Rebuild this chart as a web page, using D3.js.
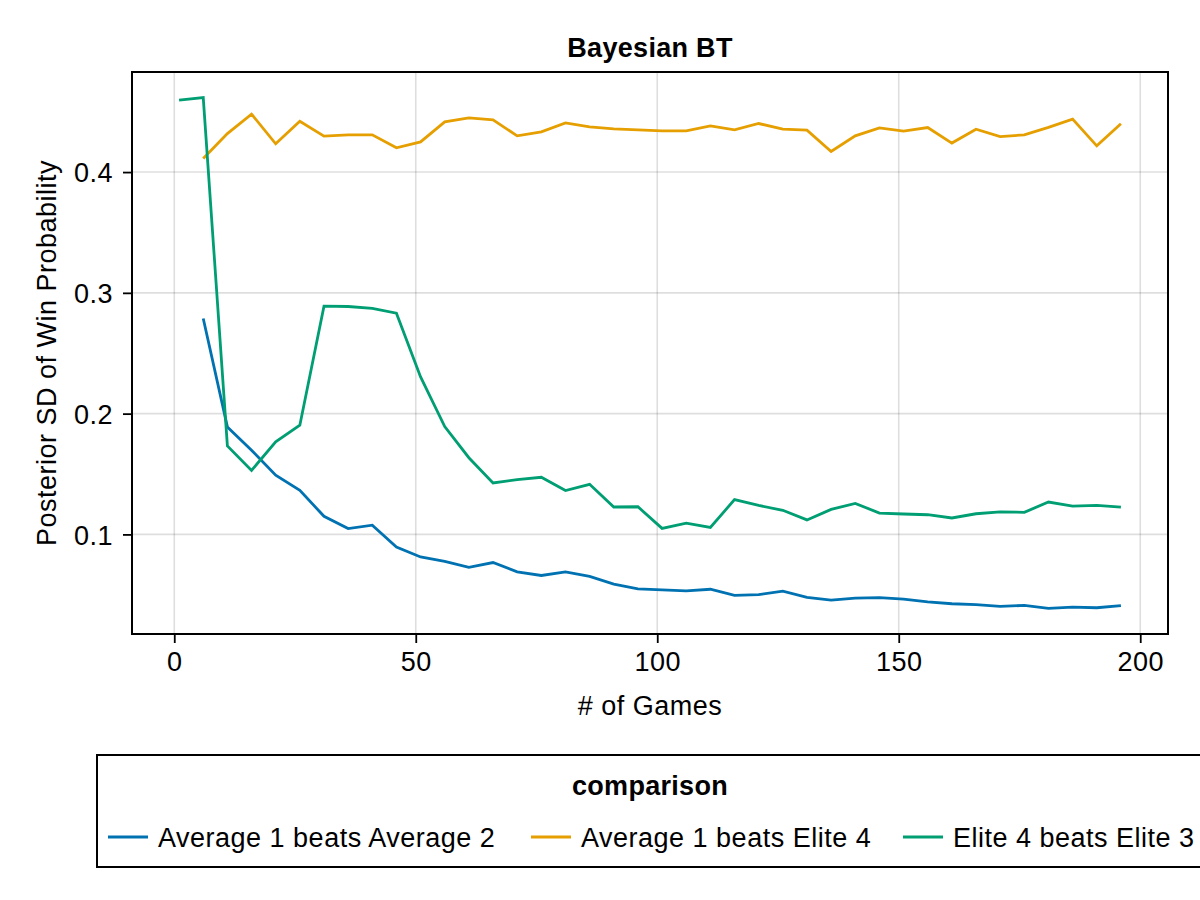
<!DOCTYPE html>
<html>
<head>
<meta charset="utf-8">
<script src="https://cdn.jsdelivr.net/npm/d3@7"></script>
<style>
  body { margin: 0; background: #fff; }
  text { font-family: "Liberation Sans", Arial, sans-serif; fill: #000; }
</style>
</head>
<body>
<div id="container"></div>
<script>
let w = 1200;
let h = 900;
let fontSize = 27;

// plot box
let boxLeft = 132;
let boxRight = 1168;
let boxTop = 72;
let boxBottom = 634;

// data
let gamesAll = [1, 6, 11, 16, 21, 26, 31, 36, 41, 46, 51, 56, 61, 66, 71, 76, 81, 86, 91, 96,
  101, 106, 111, 116, 121, 126, 131, 136, 141, 146, 151, 156, 161, 166, 171, 176, 181, 186, 191, 196];
let gamesFrom6 = gamesAll.slice(1);

let avg1Avg2 = [0.2788, 0.189, 0.1697, 0.149, 0.1365, 0.115, 0.1048, 0.1076, 0.0896, 0.0813,
  0.0777, 0.0728, 0.0767, 0.069, 0.066, 0.069, 0.0652, 0.0588, 0.0549, 0.054,
  0.0532, 0.0546, 0.0496, 0.0501, 0.0531, 0.0478, 0.0456, 0.0473, 0.0476, 0.0465,
  0.0442, 0.0426, 0.0418, 0.0404, 0.0412, 0.0387, 0.0398, 0.0393, 0.041];

let avg1Elite4 = [0.4112, 0.4319, 0.448, 0.4234, 0.4421, 0.4298, 0.4308, 0.4308, 0.4201, 0.425,
  0.4416, 0.4449, 0.4433, 0.430, 0.4333, 0.4407, 0.4374, 0.4358, 0.435, 0.4341,
  0.4341, 0.4382, 0.435, 0.4402, 0.4355, 0.4347, 0.417, 0.430, 0.4366, 0.4339,
  0.4369, 0.424, 0.4355, 0.4294, 0.4308, 0.437, 0.4438, 0.4217, 0.440];

let elite4Elite3 = [0.4595, 0.4617, 0.1733, 0.153, 0.1766, 0.1904, 0.289, 0.2887, 0.2871, 0.2832,
  0.2304, 0.1893, 0.1635, 0.1426, 0.1454, 0.1473, 0.1363, 0.1415, 0.1227, 0.1229,
  0.105, 0.1094, 0.1058, 0.1288, 0.124, 0.12, 0.112, 0.1207, 0.1257, 0.1177,
  0.1169, 0.1163, 0.1136, 0.1171, 0.1186, 0.1183, 0.1268, 0.1235, 0.124, 0.1226];

let seriesNames = ["Average 1 beats Average 2", "Average 1 beats Elite 4", "Elite 4 beats Elite 3"];
let seriesColors = ["#0072B2", "#E69F00", "#009E73"];
let xTicks = [0, 50, 100, 150, 200];
let yTicks = [0.1, 0.2, 0.3, 0.4];

let series = [
  { name: seriesNames[0], color: seriesColors[0], x: gamesFrom6, y: avg1Avg2 },
  { name: seriesNames[1], color: seriesColors[1], x: gamesFrom6, y: avg1Elite4 },
  { name: seriesNames[2], color: seriesColors[2], x: gamesAll, y: elite4Elite3 }
];

let viz = d3.select("#container")
  .append("svg")
    .attr("width", w)
    .attr("height", h)
;

// limits with 5% margin like the original
let xExt = d3.extent(gamesAll);
let allY = d3.merge([avg1Avg2, avg1Elite4, elite4Elite3]);
let yExt = d3.extent(allY);
let xPad = (xExt[1] - xExt[0]) * 0.05;
let yPad = (yExt[1] - yExt[0]) * 0.05;

let xScale = d3.scaleLinear().domain([xExt[0] - xPad, xExt[1] + xPad]).range([boxLeft, boxRight]);
let yScale = d3.scaleLinear().domain([yExt[0] - yPad, yExt[1] + yPad]).range([boxBottom, boxTop]);

// grid
let grid = viz.append("g").attr("class", "grid");
grid.selectAll(".vgrid").data(xTicks).enter().append("line")
    .attr("x1", d => xScale(d)).attr("x2", d => xScale(d))
    .attr("y1", boxTop).attr("y2", boxBottom)
    .attr("stroke", "rgba(0,0,0,0.13)")
    .attr("stroke-width", 1.6)
;
grid.selectAll(".hgrid").data(yTicks).enter().append("line")
    .attr("x1", boxLeft).attr("x2", boxRight)
    .attr("y1", d => yScale(d)).attr("y2", d => yScale(d))
    .attr("stroke", "rgba(0,0,0,0.13)")
    .attr("stroke-width", 1.6)
;

// lines
let line = d3.line()
  .x(d => xScale(d[0]))
  .y(d => yScale(d[1]));

viz.append("g").selectAll("path").data(series).enter().append("path")
    .attr("d", s => line(d3.zip(s.x, s.y)))
    .attr("fill", "none")
    .attr("stroke", s => s.color)
    .attr("stroke-width", 2.8)
    .attr("stroke-linejoin", "miter")
;

// axes
let xAxis = d3.axisBottom(xScale).tickValues(xTicks).tickSize(9).tickPadding(9).tickFormat(d3.format("d"));
let xAxisGroup = viz.append("g").attr("class", "xaxis")
    .attr("transform", "translate(0, " + boxBottom + ")")
    .call(xAxis);

let yAxis = d3.axisLeft(yScale).tickValues(yTicks).tickSize(9).tickPadding(10).tickFormat(d3.format(".1f"));
let yAxisGroup = viz.append("g").attr("class", "yaxis")
    .attr("transform", "translate(" + boxLeft + ", 0)")
    .call(yAxis);

[xAxisGroup, yAxisGroup].forEach(function(g) {
  g.select(".domain").remove();
  g.selectAll(".tick line").attr("stroke", "#000").attr("stroke-width", 1.8);
  g.selectAll(".tick text")
    .attr("font-family", "Liberation Sans, Arial, sans-serif")
    .attr("font-size", fontSize)
    .attr("letter-spacing", "0.5px")
    .attr("fill", "#000");
});
xAxisGroup.selectAll(".tick text").attr("dy", "0.71em");
yAxisGroup.selectAll(".tick text").attr("dy", "0.36em");

// frame
viz.append("rect")
    .attr("x", boxLeft).attr("y", boxTop)
    .attr("width", boxRight - boxLeft).attr("height", boxBottom - boxTop)
    .attr("fill", "none")
    .attr("stroke", "#000")
    .attr("stroke-width", 2)
;

// title and labels
viz.append("text")
    .text("Bayesian BT")
    .attr("x", (boxLeft + boxRight) / 2).attr("y", 57)
    .attr("text-anchor", "middle")
    .attr("font-size", fontSize)
    .attr("font-weight", "bold")
    .attr("letter-spacing", "0.3px")
;
viz.append("text")
    .text("# of Games")
    .attr("x", (boxLeft + boxRight) / 2).attr("y", 715)
    .attr("text-anchor", "middle")
    .attr("font-size", fontSize)
    .attr("letter-spacing", "0.5px")
;
viz.append("text")
    .text("Posterior SD of Win Probability")
    .attr("transform", "translate(56, " + (boxTop + boxBottom) / 2 + ") rotate(-90)")
    .attr("text-anchor", "middle")
    .attr("font-size", fontSize)
    .attr("letter-spacing", "0.5px")
;

// legend
let legend = viz.append("g").attr("class", "legend");
legend.append("rect")
    .attr("x", 97).attr("y", 755)
    .attr("width", 1200).attr("height", 112)
    .attr("fill", "none")
    .attr("stroke", "#000")
    .attr("stroke-width", 2)
;
legend.append("text")
    .text("comparison")
    .attr("x", 650).attr("y", 795)
    .attr("text-anchor", "middle")
    .attr("font-size", fontSize)
    .attr("font-weight", "bold")
    .attr("letter-spacing", "0.3px")
;
let entryX = [108, 531, 903];
let entries = legend.selectAll(".entry").data(series).enter().append("g")
    .attr("class", "entry")
    .attr("transform", (d, i) => "translate(" + entryX[i] + ", 837)")
;
entries.append("line")
    .attr("x1", 0).attr("x2", 40)
    .attr("y1", 0).attr("y2", 0)
    .attr("stroke", d => d.color)
    .attr("stroke-width", 2.8)
;
entries.append("text")
    .text(d => d.name)
    .attr("x", 50).attr("y", 9.5)
    .attr("font-size", fontSize)
    .attr("letter-spacing", "0.5px")
;
</script>
</body>
</html>
